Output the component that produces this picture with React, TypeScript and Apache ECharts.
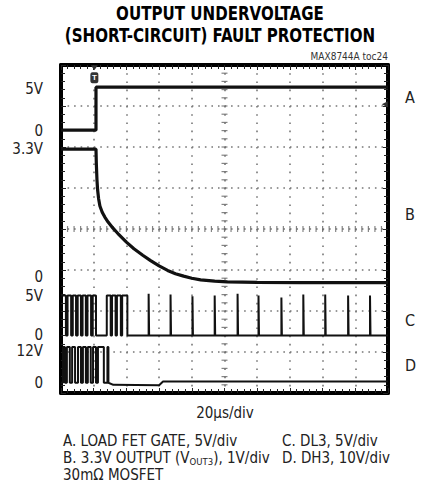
import React, { useEffect, useRef } from "react";
import * as echarts from "echarts";

// ---- Data (in scope divisions: x 0..10, y 0..8) ----
const traceAX = [0, 1.07, 1.07, 10];
const traceAY = [6.41, 6.41, 7.46, 7.46];

const traceBX = [0, 1.07, 1.08, 1.1, 1.12, 1.15, 1.19, 1.26, 1.34, 1.44, 1.59, 1.74, 2.0, 2.23, 2.5, 2.74, 3.0, 3.26, 3.5, 3.75, 4.0, 4.27, 4.7, 5.09, 6.0, 7.3, 10];
const traceBY = [5.95, 5.95, 5.6, 5.2, 4.95, 4.74, 4.56, 4.41, 4.29, 4.17, 4.02, 3.89, 3.68, 3.52, 3.36, 3.23, 3.1, 2.99, 2.91, 2.85, 2.8, 2.76, 2.73, 2.71, 2.7, 2.69, 2.69];

const traceCLevels = [1.4, 2.38]; // low, high
const cPulseEnd = 2.03;
const cDips = [
  [0.15, 0.2], [0.31, 0.36], [0.46, 0.51], [0.61, 0.66], [0.76, 0.81],
  [0.92, 0.97], [1.07, 1.4], [1.52, 1.56], [1.67, 1.71], [1.83, 1.87],
];
const cSpikes = [2.68, 3.35, 4.02, 4.7, 5.4, 6.04, 6.74, 7.41, 8.08, 8.78, 9.45];
const cSpikeTops = [2.42, 2.4, 2.36, 2.38, 2.42, 2.38, 2.33, 2.4, 2.4, 2.38, 2.38];

const traceDLevels = [0.25, 1.12]; // low, high
const dPulses = [
  [0.06, 0.12], [0.18, 0.27], [0.34, 0.43], [0.52, 0.61], [0.67, 0.76],
  [0.82, 0.91], [0.98, 1.07], [1.13, 1.31], [1.42, 1.45],
];
const dTailX = [1.6, 3.0, 3.12, 10];
const dTailY = [0.2, 0.19, 0.28, 0.28];

const leftLabelValues = [7.42, 6.4, 5.95, 2.83, 2.36, 1.42, 1.02, 0.24];
const leftLabelTexts = ["5V", "0", "3.3V", "0", "5V", "0", "12V", "0"];
const rightLabelValues = [7.2, 4.35, 1.78, 0.68];
const rightLabelTexts = ["A", "B", "C", "D"];

const FONT = "'Liberation Sans Narrow', 'DejaVu Sans Condensed', Roboto, Arial, sans-serif";

function zip(xs: number[], ys: number[]) {
  return xs.map((x, i) => [x, ys[i]]);
}

function buildC() {
  const [lo, hi] = traceCLevels;
  const d: number[][] = [[0, hi]];
  for (const [a, b] of cDips) {
    d.push([a, hi], [a, lo], [b, lo], [b, hi]);
  }
  d.push([cPulseEnd, hi], [cPulseEnd, lo]);
  cSpikes.forEach((s, i) => {
    d.push([s, lo], [s, cSpikeTops[i]], [s + 0.015, cSpikeTops[i]], [s + 0.015, lo]);
  });
  d.push([10, lo]);
  return d;
}

function buildD() {
  const [lo, hi] = traceDLevels;
  const d: number[][] = [[0, lo]];
  for (const [a, b] of dPulses) {
    d.push([a, lo], [a, hi], [b, hi], [b, lo]);
  }
  return d.concat(zip(dTailX, dTailY));
}

function labelFor(values: number[], texts: string[]) {
  return (v: number) => {
    const i = values.findIndex((x) => Math.abs(x - v) < 1e-6);
    return i >= 0 ? texts[i] : "";
  };
}

// decorative graticule ticks on the centre lines
const hTicks: number[][] = [];
for (let i = 1; i < 50; i++) hTicks.push([i * 0.2, 4]);
const vTicks: number[][] = [];
for (let i = 1; i < 40; i++) vTicks.push([5, i * 0.2]);

const GRID = { left: 61, top: 65, width: 327, height: 328 };

export default function App() {
  const ref = useRef<HTMLDivElement>(null);
  useEffect(() => {
    if (!ref.current) return;
    const chart = echarts.init(ref.current, null, { renderer: "svg" });
    const mkLine = () => ({ show: true, onZero: false, lineStyle: { color: "#000", width: 4 } });
    const mkTick = () => ({ show: true, inside: true, length: 5, lineStyle: { color: "#222", width: 1 } });
    const mkMinor = () => ({ show: true, splitNumber: 5, length: 4, lineStyle: { color: "#222", width: 1 } });
    const traceStyle = { color: "#111", width: 3.2 };
    const txt = (x: number, y: number, text: string, align: string, extra: any = {}) => ({
      type: "text", x, y,
      style: { text, font: `15px ${FONT}`, fill: "#222", align, verticalAlign: "middle", ...extra },
    });

    chart.setOption({
      animation: false,
      backgroundColor: "#fff",
      grid: { ...GRID },
      xAxis: [
        {
          type: "value", min: 0, max: 10, interval: 1, position: "bottom",
          axisLine: mkLine(), axisTick: mkTick(), minorTick: mkMinor(), axisLabel: { show: false },
          splitLine: { show: true, lineStyle: { color: "#777", width: 1.6, type: [1.6, 6.6] } },
        },
        {
          type: "value", min: 0, max: 10, interval: 1, position: "top",
          axisLine: mkLine(), axisTick: mkTick(), minorTick: mkMinor(), axisLabel: { show: false }, splitLine: { show: false },
        },
      ],
      yAxis: [
        {
          type: "value", min: 0, max: 8, interval: 1, position: "left",
          axisLine: mkLine(), axisTick: mkTick(), minorTick: mkMinor(),
          splitLine: { show: true, lineStyle: { color: "#777", width: 1.6, type: [1.6, 4.94] } },
          axisLabel: {
            show: true, customValues: leftLabelValues,
            formatter: labelFor(leftLabelValues, leftLabelTexts),
            margin: 18, fontSize: 15, color: "#222", fontFamily: FONT,
          },
        },
        {
          type: "value", min: 0, max: 8, interval: 1, position: "right",
          axisLine: mkLine(), axisTick: mkTick(), minorTick: mkMinor(), splitLine: { show: false },
          axisLabel: {
            show: true, customValues: rightLabelValues,
            formatter: labelFor(rightLabelValues, rightLabelTexts),
            margin: 17, fontSize: 16, color: "#222", fontFamily: FONT,
          },
        },
      ],
      series: [
        {
          type: "scatter", name: "hticks", data: hTicks, symbol: "rect", symbolSize: [1.2, 6],
          itemStyle: { color: "#666" }, silent: true, z: 1,
        },
        {
          type: "scatter", name: "vticks", data: vTicks, symbol: "rect", symbolSize: [6, 1.2],
          itemStyle: { color: "#666" }, silent: true, z: 1,
        },
        {
          type: "line", name: "A", data: zip(traceAX, traceAY), showSymbol: false,
          lineStyle: traceStyle, z: 5,
          markPoint: {
            data: [
              {
                coord: [1.02, 7.69], symbol: "roundRect", symbolSize: [8, 11],
                itemStyle: { color: "#333" },
                label: { show: true, formatter: "T", color: "#fff", fontSize: 8, fontWeight: "bold", position: "inside" },
              },
              {
                coord: [1.02, 7.93], symbol: "triangle", symbolSize: [7, 5], symbolRotate: 180,
                itemStyle: { color: "#333" }, label: { show: false },
              },
              {
                coord: [9.9, 7.04], symbol: "triangle", symbolSize: [6, 6], symbolRotate: 90,
                itemStyle: { color: "#333" }, label: { show: false },
              },
            ],
          },
        },
        { type: "line", name: "B", data: zip(traceBX, traceBY), showSymbol: false, lineStyle: traceStyle, z: 5 },
        { type: "line", name: "C", data: buildC(), showSymbol: false, lineStyle: { color: "#111", width: 2 }, z: 5 },
        { type: "line", name: "D", data: buildD(), showSymbol: false, lineStyle: { color: "#111", width: 2 }, z: 5 },
      ],
      graphic: [
        {
          type: "text", x: 220, y: 13, scaleX: 0.86,
          style: { text: "OUTPUT UNDERVOLTAGE", font: `bold 19.5px ${FONT}`, fill: "#000", align: "center", verticalAlign: "middle" },
        },
        {
          type: "text", x: 220, y: 35, scaleX: 0.86,
          style: { text: "(SHORT-CIRCUIT) FAULT PROTECTION", font: `bold 19.5px ${FONT}`, fill: "#000", align: "center", verticalAlign: "middle" },
        },
        {
          type: "text", x: 388, y: 56,
          style: { text: "MAX8744A toc24", font: `10px ${FONT}`, fill: "#333", align: "right", verticalAlign: "middle" },
        },
        txt(225, 413, "20μs/div", "center"),
        txt(63, 441, "A. LOAD FET GATE, 5V/div", "left"),
        txt(282, 441, "C. DL3, 5V/div", "left"),
        txt(63, 458, "B. 3.3V OUTPUT (V{sub|OUT3}), 1V/div", "left", {
          rich: { sub: { fontSize: 9.5, fontFamily: FONT, fill: "#222", padding: [6, 0, 0, 0] } },
        }),
        txt(282, 458, "D. DH3, 10V/div", "left"),
        txt(63, 475, "30mΩ MOSFET", "left"),
      ],
    });
    return () => chart.dispose();
  }, []);
  return <div ref={ref} style={{ position: "fixed", left: 0, top: 0, width: 421, height: 497 }} />;
}
